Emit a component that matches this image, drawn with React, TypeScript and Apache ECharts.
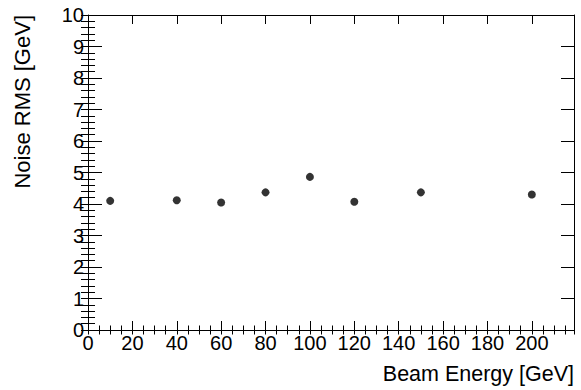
import React, { useEffect, useRef } from "react";
import * as echarts from "echarts";

const beamEnergy = [10, 40, 60, 80, 100, 120, 150, 200];
const noiseRMS = [4.1, 4.12, 4.05, 4.37, 4.86, 4.07, 4.37, 4.3];
const xTitle = "Beam Energy [GeV]";
const yTitle = "Noise RMS [GeV]";
const X_MIN = 0;
const X_MAX = 219;
const Y_MIN = 0;
const Y_MAX = 10;

const FONT = "Liberation Sans, Arial, Helvetica, sans-serif";

export default function App() {
  const ref = useRef<HTMLDivElement>(null);
  useEffect(() => {
    if (!ref.current) return;
    document.body.style.margin = "0";
    const chart = echarts.init(ref.current, undefined, { renderer: "svg" });
    const gridPos = { left: 88, top: 15, right: 7, bottom: 60, containLabel: false };
    const line = { show: true, onZero: false, lineStyle: { color: "#000", width: 1 } };
    const noLine = { show: false };
    const mkX = (gi: number, pos: string, interval: number, len: number, labels: boolean, showLine: boolean) => ({
      type: "value",
      gridIndex: gi,
      position: pos,
      min: X_MIN,
      max: X_MAX,
      interval,
      axisLine: showLine ? line : noLine,
      axisTick: { show: true, inside: true, length: len, lineStyle: { color: "#000", width: 1 } },
      axisLabel: labels
        ? { show: true, showMaxLabel: false, margin: 3, color: "#000", fontSize: 20, fontFamily: FONT }
        : { show: false },
      splitLine: { show: false },
    });
    const mkY = (gi: number, pos: string, interval: number, len: number, labels: boolean, showLine: boolean) => ({
      type: "value",
      gridIndex: gi,
      position: pos,
      min: Y_MIN,
      max: Y_MAX,
      interval,
      axisLine: showLine ? line : noLine,
      axisTick: { show: true, inside: true, length: len, lineStyle: { color: "#000", width: 1 } },
      axisLabel: labels
        ? { show: true, margin: 4, padding: [7, 0, 0, 0], color: "#000", fontSize: 20, fontFamily: FONT }
        : { show: false },
      splitLine: { show: false },
    });
    chart.setOption({
      animation: false,
      backgroundColor: "#fff",
      grid: [gridPos, gridPos],
      xAxis: [
        mkX(0, "bottom", 20, 9, true, true),
        mkX(0, "top", 20, 9, false, true),
        mkX(1, "bottom", 5, 4.5, false, false),
        mkX(1, "top", 5, 4.5, false, false),
      ],
      yAxis: [
        mkY(0, "left", 1, 14, true, true),
        mkY(0, "right", 1, 13, false, true),
        mkY(1, "left", 0.2, 7, false, false),
        mkY(1, "right", 0.2, 7, false, false),
      ],
      series: [
        {
          type: "scatter",
          xAxisIndex: 0,
          yAxisIndex: 0,
          symbol: "circle",
          symbolSize: 8,
          itemStyle: { color: "#000" },
          data: beamEnergy.map((x, i) => [x, noiseRMS[i]]),
        },
      ],
      graphic: [
        {
          type: "text",
          right: 7,
          top: 363,
          style: { text: xTitle, fill: "#000", font: `21.5px ${FONT}` },
        },
        {
          type: "text",
          x: 11,
          y: 15,
          rotation: Math.PI / 2,
          style: {
            text: yTitle,
            fill: "#000",
            font: `22px ${FONT}`,
            textAlign: "right",
            textVerticalAlign: "top",
          },
        },
      ],
    });
    return () => chart.dispose();
  }, []);
  return (
    <div
      ref={ref}
      style={{ position: "absolute", left: 0, top: 0, width: 581, height: 390 }}
    />
  );
}
